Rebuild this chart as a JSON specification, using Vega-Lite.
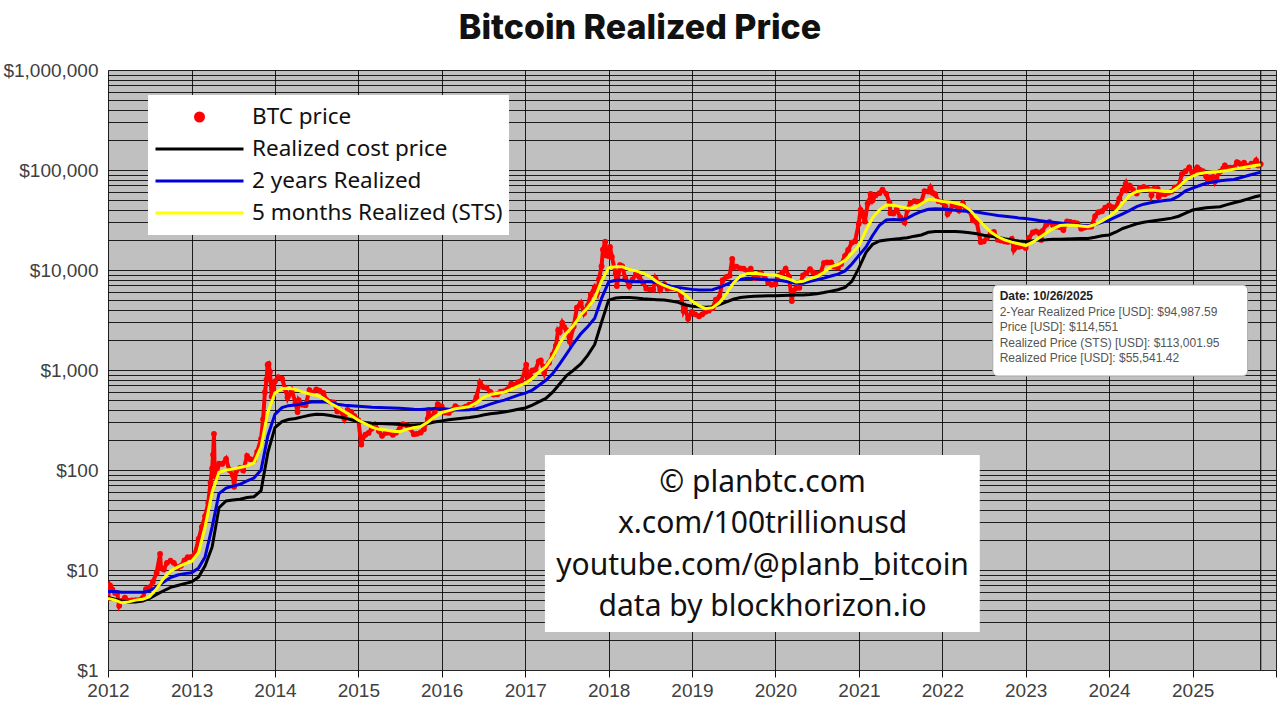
{
  "$schema": "https://vega.github.io/schema/vega-lite/v6.json",
  "width": 1168,
  "height": 600,
  "autosize": {"type": "none"},
  "padding": {"left": 108, "top": 70, "right": 4, "bottom": 37},
  "background": "white",
  "title": {
    "text": "Bitcoin Realized Price",
    "font": "Inter",
    "fontSize": 34,
    "fontWeight": 800,
    "letterSpacing": 1.4,
    "color": "#111111",
    "anchor": "middle",
    "dx": -52,
    "offset": 15
  },
  "config": {
    "view": {"fill": "#c0c0c0", "stroke": null},
    "axis": {
      "grid": true,
      "gridColor": "#000000",
      "gridOpacity": 0.85,
      "gridWidth": 1,
      "domain": false,
      "labelFont": "Liberation Sans",
      "labelFontSize": 19,
      "labelColor": "#404040",
      "title": null
    }
  },
  "datasets": {
    "price": [
      {"d": "2012-01-01", "p": 5.27}, {"d": "2012-01-10", "p": 7.0}, {"d": "2012-01-20", "p": 6.4},
      {"d": "2012-02-01", "p": 5.9}, {"d": "2012-02-10", "p": 5.9}, {"d": "2012-02-19", "p": 4.4},
      {"d": "2012-03-01", "p": 4.9}, {"d": "2012-03-15", "p": 5.3}, {"d": "2012-04-01", "p": 4.9},
      {"d": "2012-04-15", "p": 4.95}, {"d": "2012-05-01", "p": 5.0}, {"d": "2012-05-15", "p": 5.0},
      {"d": "2012-06-01", "p": 5.25}, {"d": "2012-06-15", "p": 6.45}, {"d": "2012-07-01", "p": 6.7},
      {"d": "2012-07-15", "p": 7.6}, {"d": "2012-08-01", "p": 9.4}, {"d": "2012-08-16", "p": 14.5},
      {"d": "2012-08-20", "p": 10.5}, {"d": "2012-09-01", "p": 10.1}, {"d": "2012-09-15", "p": 11.8},
      {"d": "2012-10-01", "p": 12.4}, {"d": "2012-10-15", "p": 11.8}, {"d": "2012-11-01", "p": 10.6},
      {"d": "2012-11-15", "p": 11.0}, {"d": "2012-12-01", "p": 12.5}, {"d": "2012-12-15", "p": 13.4},
      {"d": "2013-01-01", "p": 13.5}, {"d": "2013-01-15", "p": 14.5}, {"d": "2013-02-01", "p": 20.4},
      {"d": "2013-02-15", "p": 27}, {"d": "2013-03-01", "p": 34.5}, {"d": "2013-03-15", "p": 47},
      {"d": "2013-03-25", "p": 75}, {"d": "2013-04-01", "p": 104}, {"d": "2013-04-05", "p": 142},
      {"d": "2013-04-09", "p": 230}, {"d": "2013-04-12", "p": 100}, {"d": "2013-04-17", "p": 85},
      {"d": "2013-05-01", "p": 116}, {"d": "2013-05-15", "p": 115}, {"d": "2013-06-01", "p": 129},
      {"d": "2013-06-15", "p": 100}, {"d": "2013-07-01", "p": 88}, {"d": "2013-07-06", "p": 68},
      {"d": "2013-07-15", "p": 98}, {"d": "2013-08-01", "p": 105}, {"d": "2013-08-15", "p": 99},
      {"d": "2013-09-01", "p": 138}, {"d": "2013-09-15", "p": 128}, {"d": "2013-10-01", "p": 125},
      {"d": "2013-10-15", "p": 152}, {"d": "2013-11-01", "p": 204}, {"d": "2013-11-10", "p": 320},
      {"d": "2013-11-18", "p": 600}, {"d": "2013-11-25", "p": 800}, {"d": "2013-11-30", "p": 1130},
      {"d": "2013-12-04", "p": 1150}, {"d": "2013-12-10", "p": 960}, {"d": "2013-12-18", "p": 540},
      {"d": "2013-12-25", "p": 660}, {"d": "2014-01-01", "p": 770}, {"d": "2014-01-15", "p": 850},
      {"d": "2014-02-01", "p": 820}, {"d": "2014-02-15", "p": 650}, {"d": "2014-02-25", "p": 530},
      {"d": "2014-03-01", "p": 560}, {"d": "2014-03-15", "p": 630}, {"d": "2014-04-01", "p": 470},
      {"d": "2014-04-10", "p": 380}, {"d": "2014-04-15", "p": 500}, {"d": "2014-05-01", "p": 450},
      {"d": "2014-05-15", "p": 445}, {"d": "2014-06-01", "p": 630}, {"d": "2014-06-15", "p": 590},
      {"d": "2014-07-01", "p": 640}, {"d": "2014-07-15", "p": 620}, {"d": "2014-08-01", "p": 590},
      {"d": "2014-08-15", "p": 500}, {"d": "2014-09-01", "p": 480}, {"d": "2014-09-15", "p": 475},
      {"d": "2014-10-01", "p": 385}, {"d": "2014-10-15", "p": 395}, {"d": "2014-11-01", "p": 325},
      {"d": "2014-11-15", "p": 400}, {"d": "2014-12-01", "p": 380}, {"d": "2014-12-15", "p": 345},
      {"d": "2015-01-01", "p": 315}, {"d": "2015-01-14", "p": 180}, {"d": "2015-01-20", "p": 210},
      {"d": "2015-02-01", "p": 225}, {"d": "2015-02-15", "p": 235}, {"d": "2015-03-01", "p": 260},
      {"d": "2015-03-15", "p": 285}, {"d": "2015-04-01", "p": 245}, {"d": "2015-04-15", "p": 220},
      {"d": "2015-05-01", "p": 235}, {"d": "2015-05-15", "p": 237}, {"d": "2015-06-01", "p": 225},
      {"d": "2015-06-15", "p": 236}, {"d": "2015-07-01", "p": 258}, {"d": "2015-07-15", "p": 287},
      {"d": "2015-08-01", "p": 281}, {"d": "2015-08-15", "p": 261}, {"d": "2015-09-01", "p": 228},
      {"d": "2015-09-15", "p": 230}, {"d": "2015-10-01", "p": 237}, {"d": "2015-10-15", "p": 255},
      {"d": "2015-11-01", "p": 325}, {"d": "2015-11-04", "p": 400}, {"d": "2015-11-11", "p": 310},
      {"d": "2015-11-15", "p": 330}, {"d": "2015-12-01", "p": 378}, {"d": "2015-12-15", "p": 455},
      {"d": "2016-01-01", "p": 432}, {"d": "2016-01-15", "p": 375}, {"d": "2016-02-01", "p": 372},
      {"d": "2016-02-15", "p": 400}, {"d": "2016-03-01", "p": 435}, {"d": "2016-03-15", "p": 416},
      {"d": "2016-04-01", "p": 416}, {"d": "2016-04-15", "p": 430}, {"d": "2016-05-01", "p": 450},
      {"d": "2016-05-15", "p": 456}, {"d": "2016-06-01", "p": 536}, {"d": "2016-06-17", "p": 750},
      {"d": "2016-07-01", "p": 675}, {"d": "2016-07-15", "p": 665}, {"d": "2016-08-01", "p": 605},
      {"d": "2016-08-15", "p": 568}, {"d": "2016-09-01", "p": 572}, {"d": "2016-09-15", "p": 608},
      {"d": "2016-10-01", "p": 614}, {"d": "2016-10-15", "p": 640}, {"d": "2016-11-01", "p": 730},
      {"d": "2016-11-15", "p": 712}, {"d": "2016-12-01", "p": 755}, {"d": "2016-12-15", "p": 780},
      {"d": "2017-01-01", "p": 1000}, {"d": "2017-01-05", "p": 1130}, {"d": "2017-01-12", "p": 790},
      {"d": "2017-01-20", "p": 890}, {"d": "2017-02-01", "p": 990}, {"d": "2017-02-15", "p": 1010},
      {"d": "2017-03-01", "p": 1220}, {"d": "2017-03-10", "p": 1250}, {"d": "2017-03-25", "p": 940},
      {"d": "2017-04-01", "p": 1080}, {"d": "2017-04-15", "p": 1180}, {"d": "2017-05-01", "p": 1420},
      {"d": "2017-05-15", "p": 1750}, {"d": "2017-05-25", "p": 2500}, {"d": "2017-06-01", "p": 2400},
      {"d": "2017-06-12", "p": 2950}, {"d": "2017-06-20", "p": 2700}, {"d": "2017-07-01", "p": 2500},
      {"d": "2017-07-15", "p": 1930}, {"d": "2017-08-01", "p": 2720}, {"d": "2017-08-15", "p": 4200},
      {"d": "2017-09-01", "p": 4700}, {"d": "2017-09-15", "p": 3700}, {"d": "2017-10-01", "p": 4400},
      {"d": "2017-10-15", "p": 5700}, {"d": "2017-11-01", "p": 6750}, {"d": "2017-11-12", "p": 5900},
      {"d": "2017-11-20", "p": 8100}, {"d": "2017-12-01", "p": 10900}, {"d": "2017-12-07", "p": 16000},
      {"d": "2017-12-17", "p": 19200}, {"d": "2017-12-22", "p": 14000}, {"d": "2017-12-31", "p": 13800},
      {"d": "2018-01-07", "p": 17000}, {"d": "2018-01-15", "p": 13600}, {"d": "2018-02-01", "p": 9100},
      {"d": "2018-02-06", "p": 6900}, {"d": "2018-02-20", "p": 11200}, {"d": "2018-03-01", "p": 10900},
      {"d": "2018-03-15", "p": 8300}, {"d": "2018-04-01", "p": 6900}, {"d": "2018-04-15", "p": 8000},
      {"d": "2018-05-01", "p": 9200}, {"d": "2018-05-15", "p": 8500}, {"d": "2018-06-01", "p": 7500},
      {"d": "2018-06-15", "p": 6500}, {"d": "2018-07-01", "p": 6400}, {"d": "2018-07-15", "p": 6350},
      {"d": "2018-07-25", "p": 8200}, {"d": "2018-08-01", "p": 7600}, {"d": "2018-08-15", "p": 6300},
      {"d": "2018-09-01", "p": 7200}, {"d": "2018-09-15", "p": 6500}, {"d": "2018-10-01", "p": 6600},
      {"d": "2018-10-15", "p": 6600}, {"d": "2018-11-01", "p": 6350}, {"d": "2018-11-15", "p": 5600},
      {"d": "2018-11-25", "p": 3900}, {"d": "2018-12-01", "p": 4200}, {"d": "2018-12-15", "p": 3250},
      {"d": "2018-12-31", "p": 3800}, {"d": "2019-01-15", "p": 3600}, {"d": "2019-02-01", "p": 3450},
      {"d": "2019-02-15", "p": 3600}, {"d": "2019-03-01", "p": 3820}, {"d": "2019-03-15", "p": 3920},
      {"d": "2019-04-01", "p": 4150}, {"d": "2019-04-15", "p": 5050}, {"d": "2019-05-01", "p": 5350},
      {"d": "2019-05-15", "p": 7900}, {"d": "2019-06-01", "p": 8550}, {"d": "2019-06-15", "p": 8800},
      {"d": "2019-06-26", "p": 12900}, {"d": "2019-07-01", "p": 10600}, {"d": "2019-07-15", "p": 10800},
      {"d": "2019-08-01", "p": 10400}, {"d": "2019-08-15", "p": 10300}, {"d": "2019-09-01", "p": 9750},
      {"d": "2019-09-15", "p": 10300}, {"d": "2019-10-01", "p": 8300}, {"d": "2019-10-15", "p": 8350},
      {"d": "2019-10-26", "p": 9300}, {"d": "2019-11-01", "p": 9200}, {"d": "2019-11-15", "p": 8500},
      {"d": "2019-12-01", "p": 7400}, {"d": "2019-12-15", "p": 7100}, {"d": "2020-01-01", "p": 7200},
      {"d": "2020-01-15", "p": 8800}, {"d": "2020-02-01", "p": 9400}, {"d": "2020-02-15", "p": 10300},
      {"d": "2020-03-01", "p": 8600}, {"d": "2020-03-13", "p": 4900}, {"d": "2020-03-20", "p": 6200},
      {"d": "2020-04-01", "p": 6600}, {"d": "2020-04-15", "p": 6650}, {"d": "2020-05-01", "p": 8850},
      {"d": "2020-05-15", "p": 9300}, {"d": "2020-06-01", "p": 10200}, {"d": "2020-06-15", "p": 9450},
      {"d": "2020-07-01", "p": 9230}, {"d": "2020-07-15", "p": 9200}, {"d": "2020-08-01", "p": 11800},
      {"d": "2020-08-15", "p": 11900}, {"d": "2020-09-01", "p": 11900}, {"d": "2020-09-15", "p": 10800},
      {"d": "2020-10-01", "p": 10600}, {"d": "2020-10-15", "p": 11500}, {"d": "2020-11-01", "p": 13800},
      {"d": "2020-11-15", "p": 15900}, {"d": "2020-12-01", "p": 18800}, {"d": "2020-12-15", "p": 19400},
      {"d": "2020-12-31", "p": 29000}, {"d": "2021-01-08", "p": 40000}, {"d": "2021-01-15", "p": 36800},
      {"d": "2021-01-27", "p": 30500}, {"d": "2021-02-08", "p": 46000}, {"d": "2021-02-15", "p": 48700},
      {"d": "2021-02-21", "p": 57500}, {"d": "2021-03-01", "p": 49600}, {"d": "2021-03-15", "p": 56000},
      {"d": "2021-04-01", "p": 58700}, {"d": "2021-04-14", "p": 63500}, {"d": "2021-05-01", "p": 57800},
      {"d": "2021-05-15", "p": 46800}, {"d": "2021-05-19", "p": 37000}, {"d": "2021-06-01", "p": 36700},
      {"d": "2021-06-15", "p": 40100}, {"d": "2021-07-01", "p": 33500}, {"d": "2021-07-20", "p": 29800},
      {"d": "2021-08-01", "p": 39900}, {"d": "2021-08-15", "p": 47000}, {"d": "2021-09-01", "p": 48800},
      {"d": "2021-09-15", "p": 48100}, {"d": "2021-10-01", "p": 48200}, {"d": "2021-10-15", "p": 61500},
      {"d": "2021-11-01", "p": 61000}, {"d": "2021-11-10", "p": 67000}, {"d": "2021-11-20", "p": 59000},
      {"d": "2021-12-01", "p": 57200}, {"d": "2021-12-15", "p": 48900}, {"d": "2022-01-01", "p": 47700},
      {"d": "2022-01-15", "p": 43100}, {"d": "2022-01-24", "p": 36300}, {"d": "2022-02-01", "p": 38700},
      {"d": "2022-02-15", "p": 44500}, {"d": "2022-03-01", "p": 44400}, {"d": "2022-03-15", "p": 39300},
      {"d": "2022-04-01", "p": 46300}, {"d": "2022-04-15", "p": 40500}, {"d": "2022-05-01", "p": 38500},
      {"d": "2022-05-15", "p": 31300}, {"d": "2022-06-01", "p": 29800}, {"d": "2022-06-18", "p": 19000},
      {"d": "2022-07-01", "p": 19300}, {"d": "2022-07-15", "p": 20800}, {"d": "2022-08-01", "p": 23300},
      {"d": "2022-08-15", "p": 24100}, {"d": "2022-09-01", "p": 20100}, {"d": "2022-09-15", "p": 19700},
      {"d": "2022-10-01", "p": 19300}, {"d": "2022-10-15", "p": 19100}, {"d": "2022-11-01", "p": 20500},
      {"d": "2022-11-10", "p": 16000}, {"d": "2022-11-15", "p": 16900}, {"d": "2022-12-01", "p": 17000},
      {"d": "2022-12-15", "p": 17300}, {"d": "2023-01-01", "p": 16600}, {"d": "2023-01-15", "p": 20900},
      {"d": "2023-02-01", "p": 23700}, {"d": "2023-02-15", "p": 24300}, {"d": "2023-03-01", "p": 23600},
      {"d": "2023-03-10", "p": 20000}, {"d": "2023-03-15", "p": 24500}, {"d": "2023-04-01", "p": 28400},
      {"d": "2023-04-15", "p": 30300}, {"d": "2023-05-01", "p": 28000}, {"d": "2023-05-15", "p": 27200},
      {"d": "2023-06-01", "p": 26800}, {"d": "2023-06-15", "p": 25100}, {"d": "2023-07-01", "p": 30600},
      {"d": "2023-07-15", "p": 30300}, {"d": "2023-08-01", "p": 29700}, {"d": "2023-08-15", "p": 29200},
      {"d": "2023-09-01", "p": 25900}, {"d": "2023-09-15", "p": 26600}, {"d": "2023-10-01", "p": 27000},
      {"d": "2023-10-15", "p": 27100}, {"d": "2023-11-01", "p": 34600}, {"d": "2023-11-15", "p": 37900},
      {"d": "2023-12-01", "p": 38700}, {"d": "2023-12-15", "p": 42000}, {"d": "2024-01-01", "p": 44200},
      {"d": "2024-01-15", "p": 42500}, {"d": "2024-02-01", "p": 42600}, {"d": "2024-02-15", "p": 51800},
      {"d": "2024-03-01", "p": 62400}, {"d": "2024-03-14", "p": 73000}, {"d": "2024-03-20", "p": 64000},
      {"d": "2024-04-01", "p": 69700}, {"d": "2024-04-15", "p": 63400}, {"d": "2024-05-01", "p": 58300},
      {"d": "2024-05-15", "p": 66200}, {"d": "2024-06-01", "p": 67800}, {"d": "2024-06-15", "p": 66200},
      {"d": "2024-07-01", "p": 62900}, {"d": "2024-07-05", "p": 56000}, {"d": "2024-07-15", "p": 64800},
      {"d": "2024-08-01", "p": 64700}, {"d": "2024-08-05", "p": 54000}, {"d": "2024-08-15", "p": 57600},
      {"d": "2024-09-01", "p": 57300}, {"d": "2024-09-15", "p": 59100}, {"d": "2024-10-01", "p": 60800},
      {"d": "2024-10-15", "p": 67000}, {"d": "2024-11-01", "p": 69500}, {"d": "2024-11-15", "p": 91000},
      {"d": "2024-12-01", "p": 97200}, {"d": "2024-12-17", "p": 106000}, {"d": "2024-12-31", "p": 93400},
      {"d": "2025-01-15", "p": 100500}, {"d": "2025-01-21", "p": 106000}, {"d": "2025-02-01", "p": 100600},
      {"d": "2025-02-15", "p": 97500}, {"d": "2025-03-01", "p": 86000}, {"d": "2025-03-10", "p": 78500},
      {"d": "2025-03-15", "p": 84300}, {"d": "2025-04-01", "p": 85200}, {"d": "2025-04-08", "p": 76300},
      {"d": "2025-04-15", "p": 83700}, {"d": "2025-05-01", "p": 96500}, {"d": "2025-05-15", "p": 103700},
      {"d": "2025-05-22", "p": 111000}, {"d": "2025-06-01", "p": 105700}, {"d": "2025-06-15", "p": 105500},
      {"d": "2025-07-01", "p": 105700}, {"d": "2025-07-14", "p": 120000}, {"d": "2025-07-20", "p": 117600},
      {"d": "2025-08-01", "p": 113300}, {"d": "2025-08-14", "p": 118300}, {"d": "2025-09-01", "p": 109200},
      {"d": "2025-09-15", "p": 115400}, {"d": "2025-10-01", "p": 118600}, {"d": "2025-10-06", "p": 124700},
      {"d": "2025-10-15", "p": 111000}, {"d": "2025-10-26", "p": 114551}
    ],
    "realized": [
      {"d": "2012-01-01", "r": 5.3, "b": 6.1, "s": 5.2},
      {"d": "2012-02-01", "r": 5.1, "b": 6.1, "s": 5.0},
      {"d": "2012-03-01", "r": 4.9, "b": 6.0, "s": 4.7},
      {"d": "2012-04-01", "r": 4.8, "b": 6.0, "s": 4.8},
      {"d": "2012-05-01", "r": 4.8, "b": 6.0, "s": 5.0},
      {"d": "2012-06-01", "r": 4.9, "b": 6.0, "s": 5.1},
      {"d": "2012-07-01", "r": 5.2, "b": 6.2, "s": 5.4},
      {"d": "2012-08-01", "r": 5.7, "b": 6.8, "s": 6.5},
      {"d": "2012-09-01", "r": 6.2, "b": 7.6, "s": 8.3},
      {"d": "2012-10-01", "r": 6.7, "b": 8.4, "s": 9.8},
      {"d": "2012-11-01", "r": 7.0, "b": 8.9, "s": 10.7},
      {"d": "2012-12-01", "r": 7.3, "b": 9.2, "s": 11.5},
      {"d": "2013-01-01", "r": 7.6, "b": 9.4, "s": 12.2},
      {"d": "2013-02-01", "r": 8.5, "b": 10.5, "s": 15},
      {"d": "2013-03-01", "r": 11, "b": 13.5, "s": 27},
      {"d": "2013-04-01", "r": 17, "b": 27, "s": 60},
      {"d": "2013-05-01", "r": 42, "b": 58, "s": 95},
      {"d": "2013-06-01", "r": 49, "b": 66, "s": 100},
      {"d": "2013-07-01", "r": 50, "b": 69, "s": 102},
      {"d": "2013-08-01", "r": 51, "b": 72, "s": 106},
      {"d": "2013-09-01", "r": 53, "b": 78, "s": 110},
      {"d": "2013-10-01", "r": 54, "b": 83, "s": 118},
      {"d": "2013-11-01", "r": 62, "b": 100, "s": 170},
      {"d": "2013-12-01", "r": 150, "b": 220, "s": 380},
      {"d": "2014-01-01", "r": 265, "b": 360, "s": 590},
      {"d": "2014-02-01", "r": 305, "b": 420, "s": 650},
      {"d": "2014-03-01", "r": 320, "b": 440, "s": 655},
      {"d": "2014-04-01", "r": 328, "b": 446, "s": 640},
      {"d": "2014-05-01", "r": 340, "b": 460, "s": 605},
      {"d": "2014-06-01", "r": 352, "b": 475, "s": 575},
      {"d": "2014-07-01", "r": 360, "b": 482, "s": 560},
      {"d": "2014-08-01", "r": 358, "b": 480, "s": 520},
      {"d": "2014-09-01", "r": 350, "b": 470, "s": 465},
      {"d": "2014-10-01", "r": 340, "b": 455, "s": 425},
      {"d": "2014-11-01", "r": 332, "b": 445, "s": 385},
      {"d": "2014-12-01", "r": 318, "b": 440, "s": 350},
      {"d": "2015-01-01", "r": 305, "b": 435, "s": 315},
      {"d": "2015-02-01", "r": 298, "b": 430, "s": 290},
      {"d": "2015-03-01", "r": 294, "b": 425, "s": 268},
      {"d": "2015-04-01", "r": 292, "b": 422, "s": 255},
      {"d": "2015-05-01", "r": 290, "b": 420, "s": 251},
      {"d": "2015-06-01", "r": 288, "b": 418, "s": 244},
      {"d": "2015-07-01", "r": 285, "b": 415, "s": 242},
      {"d": "2015-08-01", "r": 282, "b": 410, "s": 255},
      {"d": "2015-09-01", "r": 282, "b": 405, "s": 265},
      {"d": "2015-10-01", "r": 285, "b": 403, "s": 272},
      {"d": "2015-11-01", "r": 292, "b": 408, "s": 300},
      {"d": "2015-12-01", "r": 302, "b": 412, "s": 340},
      {"d": "2016-01-01", "r": 310, "b": 412, "s": 375},
      {"d": "2016-02-01", "r": 318, "b": 405, "s": 392},
      {"d": "2016-03-01", "r": 324, "b": 398, "s": 410},
      {"d": "2016-04-01", "r": 330, "b": 398, "s": 420},
      {"d": "2016-05-01", "r": 335, "b": 400, "s": 430},
      {"d": "2016-06-01", "r": 342, "b": 410, "s": 470},
      {"d": "2016-07-01", "r": 355, "b": 430, "s": 530},
      {"d": "2016-08-01", "r": 365, "b": 455, "s": 570},
      {"d": "2016-09-01", "r": 372, "b": 480, "s": 585},
      {"d": "2016-10-01", "r": 380, "b": 500, "s": 600},
      {"d": "2016-11-01", "r": 392, "b": 530, "s": 640},
      {"d": "2016-12-01", "r": 405, "b": 560, "s": 690},
      {"d": "2017-01-01", "r": 417, "b": 588, "s": 736},
      {"d": "2017-02-01", "r": 445, "b": 630, "s": 820},
      {"d": "2017-03-01", "r": 480, "b": 700, "s": 950},
      {"d": "2017-04-01", "r": 520, "b": 790, "s": 1080},
      {"d": "2017-05-01", "r": 600, "b": 920, "s": 1350},
      {"d": "2017-06-01", "r": 730, "b": 1150, "s": 1850},
      {"d": "2017-07-01", "r": 880, "b": 1450, "s": 2350},
      {"d": "2017-08-01", "r": 1000, "b": 1850, "s": 2800},
      {"d": "2017-09-01", "r": 1150, "b": 2300, "s": 3550},
      {"d": "2017-10-01", "r": 1400, "b": 2700, "s": 4200},
      {"d": "2017-11-01", "r": 1800, "b": 3300, "s": 5200},
      {"d": "2017-12-01", "r": 3000, "b": 5200, "s": 7800},
      {"d": "2018-01-01", "r": 5000, "b": 7600, "s": 10500},
      {"d": "2018-02-01", "r": 5250, "b": 7900, "s": 10800},
      {"d": "2018-03-01", "r": 5300, "b": 7900, "s": 10800},
      {"d": "2018-04-01", "r": 5300, "b": 7700, "s": 10100},
      {"d": "2018-05-01", "r": 5250, "b": 7650, "s": 9800},
      {"d": "2018-06-01", "r": 5150, "b": 7650, "s": 9300},
      {"d": "2018-07-01", "r": 5100, "b": 7640, "s": 8600},
      {"d": "2018-08-01", "r": 5050, "b": 7500, "s": 7600},
      {"d": "2018-09-01", "r": 5000, "b": 7200, "s": 7000},
      {"d": "2018-10-01", "r": 4900, "b": 6900, "s": 6600},
      {"d": "2018-11-01", "r": 4750, "b": 6700, "s": 6300},
      {"d": "2018-12-01", "r": 4500, "b": 6550, "s": 5700},
      {"d": "2019-01-01", "r": 4350, "b": 6400, "s": 4900},
      {"d": "2019-02-01", "r": 4280, "b": 6320, "s": 4400},
      {"d": "2019-03-01", "r": 4250, "b": 6300, "s": 4100},
      {"d": "2019-04-01", "r": 4300, "b": 6350, "s": 4200},
      {"d": "2019-05-01", "r": 4500, "b": 6700, "s": 4700},
      {"d": "2019-06-01", "r": 4800, "b": 7200, "s": 5800},
      {"d": "2019-07-01", "r": 5100, "b": 7700, "s": 7400},
      {"d": "2019-08-01", "r": 5300, "b": 8050, "s": 8700},
      {"d": "2019-09-01", "r": 5400, "b": 8250, "s": 9250},
      {"d": "2019-10-01", "r": 5450, "b": 8200, "s": 9300},
      {"d": "2019-11-01", "r": 5500, "b": 8100, "s": 9100},
      {"d": "2019-12-01", "r": 5520, "b": 8000, "s": 8950},
      {"d": "2020-01-01", "r": 5530, "b": 7940, "s": 8900},
      {"d": "2020-02-01", "r": 5560, "b": 7800, "s": 8500},
      {"d": "2020-03-01", "r": 5600, "b": 7600, "s": 8100},
      {"d": "2020-04-01", "r": 5620, "b": 7360, "s": 7600},
      {"d": "2020-05-01", "r": 5630, "b": 7360, "s": 7700},
      {"d": "2020-06-01", "r": 5700, "b": 7700, "s": 8200},
      {"d": "2020-07-01", "r": 5800, "b": 8000, "s": 8600},
      {"d": "2020-08-01", "r": 5950, "b": 8300, "s": 9500},
      {"d": "2020-09-01", "r": 6150, "b": 8700, "s": 10800},
      {"d": "2020-10-01", "r": 6350, "b": 9100, "s": 11300},
      {"d": "2020-11-01", "r": 6700, "b": 9800, "s": 12500},
      {"d": "2020-12-01", "r": 7700, "b": 11500, "s": 14700},
      {"d": "2021-01-01", "r": 10500, "b": 14000, "s": 17500},
      {"d": "2021-02-01", "r": 15000, "b": 17000, "s": 25000},
      {"d": "2021-03-01", "r": 18000, "b": 22000, "s": 33000},
      {"d": "2021-04-01", "r": 19500, "b": 28000, "s": 40000},
      {"d": "2021-05-01", "r": 20000, "b": 31600, "s": 44700},
      {"d": "2021-06-01", "r": 20300, "b": 32000, "s": 44500},
      {"d": "2021-07-01", "r": 20600, "b": 31600, "s": 43000},
      {"d": "2021-08-01", "r": 21000, "b": 33000, "s": 41500},
      {"d": "2021-09-01", "r": 21800, "b": 36000, "s": 42000},
      {"d": "2021-10-01", "r": 22400, "b": 38500, "s": 46000},
      {"d": "2021-11-01", "r": 23800, "b": 40500, "s": 51000},
      {"d": "2021-12-01", "r": 24200, "b": 41000, "s": 50000},
      {"d": "2022-01-01", "r": 24200, "b": 40800, "s": 48500},
      {"d": "2022-02-01", "r": 24200, "b": 40000, "s": 48000},
      {"d": "2022-03-01", "r": 24200, "b": 39500, "s": 46500},
      {"d": "2022-04-01", "r": 24000, "b": 39000, "s": 44700},
      {"d": "2022-05-01", "r": 23600, "b": 38500, "s": 40000},
      {"d": "2022-06-01", "r": 23000, "b": 38000, "s": 33500},
      {"d": "2022-07-01", "r": 22300, "b": 37000, "s": 28000},
      {"d": "2022-08-01", "r": 21800, "b": 36000, "s": 24000},
      {"d": "2022-09-01", "r": 21300, "b": 35000, "s": 21500},
      {"d": "2022-10-01", "r": 20500, "b": 34500, "s": 20000},
      {"d": "2022-11-01", "r": 20000, "b": 33800, "s": 19000},
      {"d": "2022-12-01", "r": 19500, "b": 33200, "s": 18300},
      {"d": "2023-01-01", "r": 19300, "b": 32800, "s": 17500},
      {"d": "2023-02-01", "r": 19600, "b": 32000, "s": 19000},
      {"d": "2023-03-01", "r": 20000, "b": 31200, "s": 21000},
      {"d": "2023-04-01", "r": 20100, "b": 30500, "s": 23500},
      {"d": "2023-05-01", "r": 20300, "b": 30000, "s": 26000},
      {"d": "2023-06-01", "r": 20300, "b": 29500, "s": 27800},
      {"d": "2023-07-01", "r": 20400, "b": 29000, "s": 28200},
      {"d": "2023-08-01", "r": 20500, "b": 28500, "s": 28000},
      {"d": "2023-09-01", "r": 20600, "b": 28000, "s": 27500},
      {"d": "2023-10-01", "r": 20700, "b": 27500, "s": 27100},
      {"d": "2023-11-01", "r": 21300, "b": 28500, "s": 28500},
      {"d": "2023-12-01", "r": 22000, "b": 30000, "s": 31000},
      {"d": "2024-01-01", "r": 22400, "b": 31600, "s": 34000},
      {"d": "2024-02-01", "r": 24000, "b": 34000, "s": 39000},
      {"d": "2024-03-01", "r": 26000, "b": 36500, "s": 47000},
      {"d": "2024-04-01", "r": 27500, "b": 39500, "s": 56000},
      {"d": "2024-05-01", "r": 29000, "b": 43000, "s": 61000},
      {"d": "2024-06-01", "r": 30000, "b": 45500, "s": 62500},
      {"d": "2024-07-01", "r": 30800, "b": 47000, "s": 63100},
      {"d": "2024-08-01", "r": 31500, "b": 48500, "s": 62500},
      {"d": "2024-09-01", "r": 32200, "b": 49500, "s": 61000},
      {"d": "2024-10-01", "r": 33000, "b": 50500, "s": 61000},
      {"d": "2024-11-01", "r": 34500, "b": 55000, "s": 68000},
      {"d": "2024-12-01", "r": 37000, "b": 62000, "s": 79000},
      {"d": "2025-01-01", "r": 39800, "b": 66000, "s": 87000},
      {"d": "2025-02-01", "r": 41000, "b": 70000, "s": 92000},
      {"d": "2025-03-01", "r": 42000, "b": 73600, "s": 94500},
      {"d": "2025-04-01", "r": 42500, "b": 76000, "s": 96000},
      {"d": "2025-05-01", "r": 43000, "b": 78000, "s": 96400},
      {"d": "2025-06-01", "r": 45000, "b": 79400, "s": 99000},
      {"d": "2025-07-01", "r": 47000, "b": 80500, "s": 102000},
      {"d": "2025-08-01", "r": 49000, "b": 84000, "s": 105000},
      {"d": "2025-09-01", "r": 51500, "b": 88000, "s": 108000},
      {"d": "2025-10-01", "r": 54000, "b": 92000, "s": 111000},
      {"d": "2025-10-26", "r": 55541.42, "b": 94987.59, "s": 113001.95}
    ],
    "credits": [
      {"d": "2019-11-06", "v": 74, "t": "© planbtc.com"},
      {"d": "2019-11-06", "v": 28.8, "t": "x.com/100trillionusd"},
      {"d": "2019-11-06", "v": 11.0, "t": "youtube.com/@planb_bitcoin"},
      {"d": "2019-11-06", "v": 4.27, "t": "data by blockhorizon.io"}
    ],
    "readout": [
      {"d": "2022-09-09", "v": 5495, "t": "Date: 10/26/2025", "head": true},
      {"d": "2022-09-09", "v": 3802, "t": "2-Year Realized Price [USD]: $94,987.59", "head": false},
      {"d": "2022-09-09", "v": 2692, "t": "Price [USD]: $114,551", "head": false},
      {"d": "2022-09-09", "v": 1862, "t": "Realized Price (STS) [USD]: $113,001.95", "head": false},
      {"d": "2022-09-09", "v": 1318, "t": "Realized Price [USD]: $55,541.42", "head": false}
    ],
    "boxes": [
      {"name": "credits", "d1": "2017-03-28", "d2": "2022-06-14", "v1": 141, "v2": 2.4},
      {"name": "readout", "d1": "2022-08-10", "d2": "2025-08-30", "v1": 7079, "v2": 871}
    ],
    "cursor": [{"d": "2025-10-26"}]
  },
  "layer": [
    {
      "data": {"name": "price"},
      "mark": {"type": "line", "strokeWidth": 4, "clip": true},
      "encoding": {
        "x": {
          "field": "d",
          "type": "temporal",
          "scale": {
            "type": "utc",
            "domain": [
              {"year": 2012, "month": 1, "date": 1, "utc": true},
              {"year": 2026, "month": 1, "date": 1, "utc": true}
            ]
          },
          "axis": {
            "values": [
              {"year": 2012, "month": 1, "date": 1, "utc": true},
              {"year": 2013, "month": 1, "date": 1, "utc": true},
              {"year": 2014, "month": 1, "date": 1, "utc": true},
              {"year": 2015, "month": 1, "date": 1, "utc": true},
              {"year": 2016, "month": 1, "date": 1, "utc": true},
              {"year": 2017, "month": 1, "date": 1, "utc": true},
              {"year": 2018, "month": 1, "date": 1, "utc": true},
              {"year": 2019, "month": 1, "date": 1, "utc": true},
              {"year": 2020, "month": 1, "date": 1, "utc": true},
              {"year": 2021, "month": 1, "date": 1, "utc": true},
              {"year": 2022, "month": 1, "date": 1, "utc": true},
              {"year": 2023, "month": 1, "date": 1, "utc": true},
              {"year": 2024, "month": 1, "date": 1, "utc": true},
              {"year": 2025, "month": 1, "date": 1, "utc": true},
              {"year": 2026, "month": 1, "date": 1, "utc": true}
            ],
            "format": "%Y",
            "labelExpr": "datum.label == '2026' ? '' : datum.label",
            "ticks": true,
            "tickColor": "#111111",
            "tickSize": 7,
            "labelPadding": 4,
            "labelOverlap": false,
            "labelFlush": false
          }
        },
        "y": {
          "field": "p",
          "type": "quantitative",
          "scale": {"type": "log", "domain": [1, 1000000], "nice": false},
          "axis": {
            "values": [1, 2, 3, 4, 5, 6, 7, 8, 9, 10, 20, 30, 40, 50, 60, 70, 80, 90, 100, 200, 300, 400, 500, 600, 700, 800, 900, 1000, 2000, 3000, 4000, 5000, 6000, 7000, 8000, 9000, 10000, 20000, 30000, 40000, 50000, 60000, 70000, 80000, 90000, 100000, 200000, 300000, 400000, 500000, 600000, 700000, 800000, 900000, 1000000],
            "labelExpr": "indexof([1, 10, 100, 1000, 10000, 100000, 1000000], datum.value) >= 0 ? '$' + format(datum.value, ',') : ''",
            "ticks": false,
            "labelPadding": 10,
            "labelOverlap": false,
            "labelFlush": false,
            "labelBaseline": "middle"
          }
        },
        "color": {
          "datum": "BTC price",
          "scale": {
            "domain": ["BTC price", "Realized cost price", "2 years Realized", "5 months Realized (STS)"],
            "range": ["#ff0000", "#000000", "#0000dd", "#ffff00"]
          },
          "legend": {
            "orient": "none",
            "legendX": 40,
            "legendY": 25,
            "title": null,
            "fillColor": "#ffffff",
            "padding": 6,
            "labelFont": "Noto Sans",
            "labelFontSize": 22.5,
            "labelColor": "#111111",
            "labelOffset": 7,
            "labelLimit": 400,
            "clipHeight": 32,
            "rowPadding": 0,
            "symbolOffset": 0,
            "encode": {
              "symbols": {
                "update": {
                  "shape": {"signal": "datum.value === 'BTC price' ? 'circle' : 'stroke'"},
                  "size": {"signal": "datum.value === 'BTC price' ? 64 : 7744"},
                  "fill": {"signal": "datum.value === 'BTC price' ? '#ff0000' : 'transparent'"},
                  "stroke": {"signal": "datum.value === 'BTC price' ? 'transparent' : datum.value === 'Realized cost price' ? '#000000' : datum.value === '2 years Realized' ? '#0000dd' : '#ffff00'"},
                  "strokeWidth": {"value": 3},
                  "opacity": {"value": 1}
                }
              }
            }
          }
        }
      }
    },
    {
      "data": {"name": "price"},
      "mark": {"type": "circle", "size": 34, "opacity": 1, "clip": true},
      "encoding": {
        "x": {"field": "d", "type": "temporal"},
        "y": {"field": "p", "type": "quantitative"},
        "color": {"datum": "BTC price"}
      }
    },
    {
      "data": {"name": "cursor"},
      "mark": {"type": "rule", "color": "#111111", "strokeWidth": 1.2},
      "encoding": {
        "x": {"field": "d", "type": "temporal"}
      }
    },
    {
      "data": {"name": "realized"},
      "mark": {"type": "line", "strokeWidth": 3, "clip": true},
      "encoding": {
        "x": {"field": "d", "type": "temporal"},
        "y": {"field": "r", "type": "quantitative"},
        "color": {"datum": "Realized cost price"}
      }
    },
    {
      "data": {"name": "realized"},
      "mark": {"type": "line", "strokeWidth": 3, "clip": true},
      "encoding": {
        "x": {"field": "d", "type": "temporal"},
        "y": {"field": "b", "type": "quantitative"},
        "color": {"datum": "2 years Realized"}
      }
    },
    {
      "data": {"name": "realized"},
      "mark": {"type": "line", "strokeWidth": 3, "clip": true},
      "encoding": {
        "x": {"field": "d", "type": "temporal"},
        "y": {"field": "s", "type": "quantitative"},
        "color": {"datum": "5 months Realized (STS)"}
      }
    },
    {
      "data": {"name": "boxes"},
      "transform": [{"filter": "datum.name == 'credits'"}],
      "mark": {"type": "rect", "fill": "#ffffff"},
      "encoding": {
        "x": {"field": "d1", "type": "temporal"},
        "x2": {"field": "d2"},
        "y": {"field": "v1", "type": "quantitative"},
        "y2": {"field": "v2"}
      }
    },
    {
      "data": {"name": "credits"},
      "mark": {"type": "text", "font": "Noto Sans", "fontSize": 30, "color": "#111111", "align": "center", "baseline": "middle"},
      "encoding": {
        "x": {"field": "d", "type": "temporal"},
        "y": {"field": "v", "type": "quantitative"},
        "text": {"field": "t"}
      }
    },
    {
      "data": {"name": "boxes"},
      "transform": [{"filter": "datum.name == 'readout'"}],
      "mark": {"type": "rect", "fill": "#ffffff", "stroke": "#a8a8a8", "strokeWidth": 1, "cornerRadius": 5},
      "encoding": {
        "x": {"field": "d1", "type": "temporal"},
        "x2": {"field": "d2"},
        "y": {"field": "v1", "type": "quantitative"},
        "y2": {"field": "v2"}
      }
    },
    {
      "data": {"name": "readout"},
      "transform": [{"filter": "datum.head"}],
      "mark": {"type": "text", "font": "Liberation Sans", "fontSize": 12, "fontWeight": "bold", "color": "#222222", "align": "left", "baseline": "middle"},
      "encoding": {
        "x": {"field": "d", "type": "temporal"},
        "y": {"field": "v", "type": "quantitative"},
        "text": {"field": "t"}
      }
    },
    {
      "data": {"name": "readout"},
      "transform": [{"filter": "!datum.head"}],
      "mark": {"type": "text", "font": "Liberation Sans", "fontSize": 12, "color": "#555555", "align": "left", "baseline": "middle"},
      "encoding": {
        "x": {"field": "d", "type": "temporal"},
        "y": {"field": "v", "type": "quantitative"},
        "text": {"field": "t"}
      }
    }
  ]
}
